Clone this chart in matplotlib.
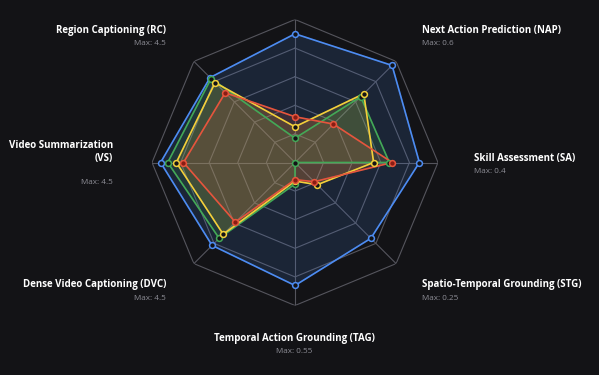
import numpy as np
import matplotlib
matplotlib.use("Agg")
import matplotlib.pyplot as plt

# --- Data (fraction of each axis max) ---
# axis order clockwise from top; top axis label is outside the canvas
axes_labels = ["", "Next Action Prediction (NAP)", "Skill Assessment (SA)",
               "Spatio-Temporal Grounding (STG)", "Temporal Action Grounding (TAG)",
               "Dense Video Captioning (DVC)", "Video Summarization\n(VS)",
               "Region Captioning (RC)"]
axes_max = ["", "0.6", "0.4", "0.25", "0.55", "4.5", "4.5", "4.5"]

blue = [0.90, 0.96, 0.87, 0.75, 0.86, 0.82, 0.94, 0.84]
green = [0.17, 0.65, 0.66, 0.00, 0.15, 0.75, 0.89, 0.83]
yellow = [0.25, 0.68, 0.55, 0.22, 0.13, 0.71, 0.83, 0.79]
red = [0.32, 0.38, 0.68, 0.19, 0.12, 0.59, 0.78, 0.69]

series = [
    (blue, "#4d8cf2", "#131316"),
    (green, "#43a857", "#131316"),
    (yellow, "#f3cf3b", "#131316"),
    (red, "#e5553d", "#8a1c14"),
]

BG = "#131316"
W, H = 599, 375
cx, cy, R = 295, 375 - 162.5, 143

fig = plt.figure(figsize=(W / 100, H / 100), dpi=100, facecolor=BG)
ax = fig.add_axes([(cx - R) / W, (cy - R) / H, 2 * R / W, 2 * R / H], polar=True)
ax.set_facecolor("none")
ax.set_theta_zero_location("N")
ax.set_theta_direction(-1)
ax.set_ylim(0, 1)
ax.grid(False)
ax.spines["polar"].set_visible(False)
ax.set_xticks([])
ax.set_yticks([])

n = len(blue)
theta = np.arange(n) * 2 * np.pi / n
theta_c = np.append(theta, theta[0])

# octagon grid
for r in [0.2, 0.4, 0.6, 0.8, 1.0]:
    ax.plot(theta_c, [r] * (n + 1), color="#55555d", lw=0.8, zorder=1)
for t in theta:
    ax.plot([t, t], [0, 1], color="#55555d", lw=0.8, zorder=1)

for vals, col, face in series:
    v = np.append(vals, vals[0])
    ax.fill(theta_c, v, color=col, alpha=0.15, zorder=2)
    ax.plot(theta_c, v, color=col, lw=1.2, zorder=3)
    ax.plot(theta, vals, "o", ms=4.2, mfc=face, mec=col, mew=1.1, zorder=4)

# --- Axis labels ---
fam = ["Open Sans", "DejaVu Sans"]
# (label index, x px, y px of title, ha)
spots = [
    (7, 166, 30, "right"),
    (1, 422, 30, "left"),
    (2, 474, 158, "left"),
    (3, 422, 285, "left"),
    (4, 294, 338, "center"),
    (5, 166, 285, "right"),
    (6, 113, 152, "right"),
]
for i, x, y, ha in spots:
    fig.text(x / W, 1 - y / H, axes_labels[i], ha=ha, va="center",
             color="white", fontsize=7.0, fontweight="bold", family=fam,
             linespacing=1.15, multialignment=ha)
    my = y + (30 if "\n" in axes_labels[i] else 13.5)
    fig.text(x / W, 1 - my / H, "Max: " + axes_max[i], ha=ha, va="center",
             color="#8e8e96", fontsize=5.9, family=fam)

fig.savefig("out.png", dpi=100, facecolor=BG)
